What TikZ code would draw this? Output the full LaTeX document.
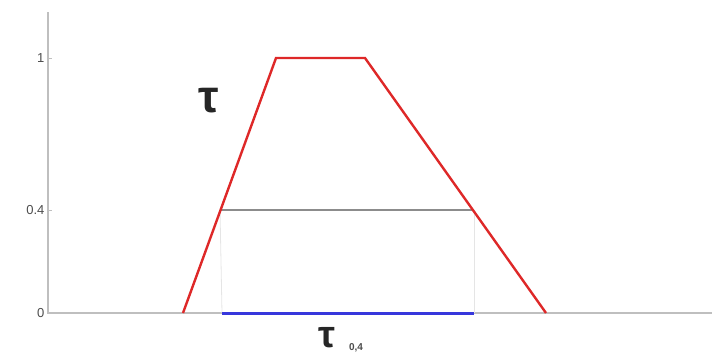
\documentclass[tikz,border=0pt]{standalone}
\usepackage{fontspec}
\setsansfont{Liberation Sans}
\newfontfamily\greekfont{Liberation Sans}
\definecolor{trapred}{RGB}{222,40,40}
\definecolor{cutblue}{RGB}{55,55,220}
\begin{document}
\begin{tikzpicture}[x=1pt, y=-1pt,
    axis/.style={draw=black!25, line width=1.5pt},
    tick/.style={font=\sffamily\fontsize{13}{13}\selectfont, text=black!70, left},
    member/.style={draw=trapred, line width=2.4pt, line join=miter},
    cut/.style={draw=black!45, line width=2pt},
    guide/.style={draw=black!10, line width=0.8pt},
    interval/.style={draw=cutblue, line width=3pt},
    greek/.style={text=black!85, inner sep=0pt, anchor=base}
]
\useasboundingbox (0,0) rectangle (719,354);

% Axes
\coordinate (O)  at (48,313);
\coordinate (Y)  at (48,12);
\coordinate (X)  at (712,313);
\draw[axis] (Y) -- (O) -- (X);

% Ticks and labels
\coordinate (T1) at (48,58);
\coordinate (T4) at (48,210);
\draw[axis, line width=0.8pt] (T1) -- ++(4,0);
\draw[axis, line width=0.8pt] (T4) -- ++(4,0);
\node[tick] (l1) at (T1) {1};
\node[tick] (l4) at (T4) {0.4};
\node[tick] (l0) at (O)  {0};

% Trapezoid membership function
\coordinate (A) at (183,313);
\coordinate (B) at (276,58);
\coordinate (C) at (365,58);
\coordinate (D) at (546,313);

% alpha cut at 0.4
\coordinate (P) at (220,210);
\coordinate (Q) at (474,210);
\coordinate (P0) at (222,313);
\coordinate (Q0) at (474,313);

\draw[guide] (P) -- (P0);
\draw[guide] (Q) -- (Q0);
\draw[cut] (P) -- (Q);
\draw[interval] (P0) -- (Q0);
\draw[member] (A) -- (B) -- (C) -- (D);

% Labels
\node[greek, font=\greekfont\bfseries\fontsize{46}{46}\selectfont] (tau) at (209,112) {τ};
\node[greek, font=\greekfont\bfseries\fontsize{38}{38}\selectfont] (taucut) at (327,347) {τ};
\node[greek, font=\sffamily\bfseries\fontsize{10}{10}\selectfont, text=black!70] (sub) at (356,350) {0,4};
\end{tikzpicture}
\end{document}
